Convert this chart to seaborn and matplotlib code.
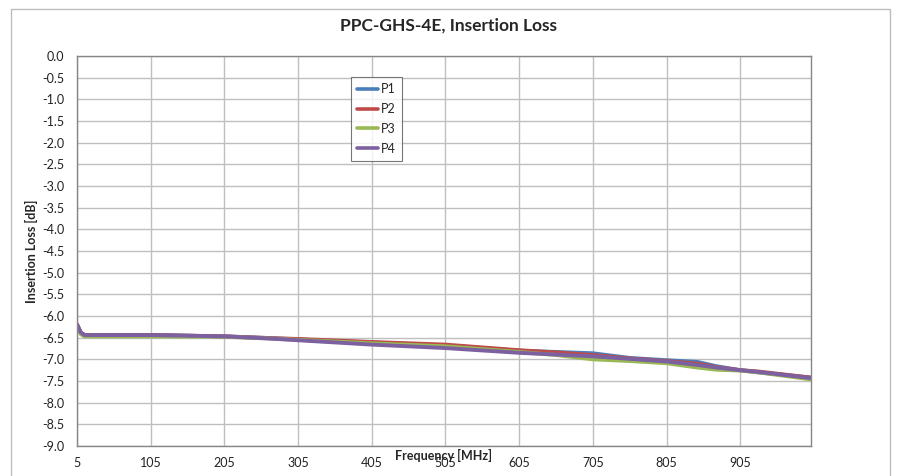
import numpy as np
import pandas as pd
import seaborn as sns
import matplotlib
matplotlib.use("Agg")
import matplotlib.pyplot as plt
from matplotlib.patches import Rectangle

sns.set_style("white")
plt.rcParams['font.family'] = ['Lato', 'DejaVu Sans']
plt.rcParams['axes.unicode_minus'] = False

# Data (frequency in MHz, loss in dB)
freq = [5, 10, 15, 50, 105, 205, 267, 305, 405, 505, 605, 655, 705, 756, 805, 847, 873, 905, 929, 1000]
p1 = [-6.20, -6.38, -6.44, -6.44, -6.44, -6.47, -6.51, -6.54, -6.61, -6.68, -6.80, -6.83, -6.86, -6.97, -7.02, -7.06, -7.16, -7.25, -7.30, -7.42]
p2 = [-6.20, -6.38, -6.44, -6.44, -6.44, -6.47, -6.51, -6.53, -6.60, -6.66, -6.79, -6.84, -6.90, -6.98, -7.04, -7.10, -7.18, -7.25, -7.28, -7.42]
p3 = [-6.22, -6.42, -6.47, -6.47, -6.47, -6.48, -6.52, -6.55, -6.63, -6.70, -6.83, -6.90, -7.00, -7.04, -7.09, -7.19, -7.24, -7.26, -7.30, -7.46]
p4 = [-6.19, -6.38, -6.44, -6.44, -6.44, -6.47, -6.52, -6.56, -6.66, -6.74, -6.85, -6.89, -6.93, -6.99, -7.05, -7.13, -7.19, -7.25, -7.29, -7.43]
ports = ["P1", "P2", "P3", "P4"]
colors = ["#4a7ebb", "#be4b48", "#98b954", "#7d60a0"]

xticks = list(range(5, 1000, 100))
yticks = [-9.0 + 0.5 * i for i in range(19)]

# long format for seaborn
df = pd.DataFrame({
    "Frequency": freq * 4,
    "Loss": p1 + p2 + p3 + p4,
    "Port": sum([[p] * len(freq) for p in ports], []),
})

fig = plt.figure(figsize=(8.97, 4.76), dpi=100)
ax = fig.add_axes([77 / 897, 1 - 446 / 476, 734 / 897, 390 / 476])

sns.lineplot(data=df, x="Frequency", y="Loss", hue="Port", palette=colors,
             linewidth=2.8, ax=ax, legend=False)

ax.set_xlim(5, 1001)
ax.set_ylim(-9.0, 0.0)
ax.set_xticks(xticks)
ax.set_yticks(yticks)
ax.set_yticklabels(["%.1f" % v for v in yticks])
ax.tick_params(axis="both", length=0, labelsize=9, colors="#222222")
ax.tick_params(axis="x", pad=8)
ax.tick_params(axis="y", pad=9)
ax.grid(True, color="#bfbfbf", linewidth=1.0)
for s in ax.spines.values():
    s.set_color("#868686")
    s.set_linewidth(1.0)

ax.set_xlabel("")
ax.set_ylabel("Insertion Loss [dB]", fontsize=9, fontweight="bold", labelpad=3)
fig.text(443 / 897, 1 - 455 / 476, "Frequency [MHz]", fontsize=9, fontweight="bold",
         ha="center", va="center")
fig.text(448 / 897, 1 - 26 / 476, "PPC-GHS-4E, Insertion Loss", fontsize=12.5,
         fontweight="bold", ha="center", va="center")

handles = [plt.Line2D([], [], color=c, linewidth=2.6) for c in colors]
leg = ax.legend(handles, ports, loc="upper left", bbox_to_anchor=(0.373, 0.946),
                fontsize=9, frameon=True, fancybox=False, handlelength=1.7,
                handletextpad=0.2, labelspacing=0.62, borderpad=0.5, borderaxespad=0)
leg.get_frame().set_edgecolor("#555555")
leg.get_frame().set_linewidth(0.8)

# chart area border
fig.patches.append(Rectangle((11 / 897, -0.02), 879 / 897, 1 - 9 / 476 + 0.02,
                             transform=fig.transFigure, fill=False,
                             edgecolor="#bdbdbd", linewidth=1.0))

fig.savefig("out.png", dpi=100)
